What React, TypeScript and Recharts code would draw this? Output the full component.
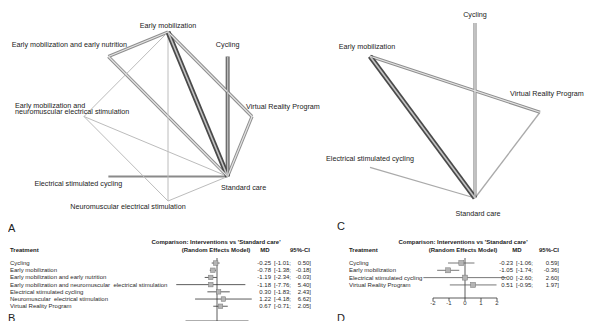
import React from "react";
import { ScatterChart, Scatter, XAxis, YAxis, ErrorBar, ReferenceLine } from "recharts";

const FONT = "'Liberation Sans', Arial, Helvetica, sans-serif";

// ---- network A (layout units, -1..1) ----
const netANames = [
  "Early mobilization",
  "Cycling",
  "Virtual Reality Program",
  "Standard care",
  "Neuromuscular electrical stimulation",
  "Electrical stimulated cycling",
  "Early mobilization and neuromuscular electrical stimulation",
  "Early mobilization and early nutrition",
];
const netAX = [0, 0.71, 1, 0.71, 0, -0.71, -1, -0.71];
const netAY = [1, 0.71, 0, -0.71, -1, -0.71, 0, 0.71];
const netAEdges = [
  [0, 7], [7, 3], [0, 2], [2, 3], [5, 3],
  [0, 6], [0, 4], [6, 3], [6, 4], [4, 3],
  [1, 3], [0, 3],
];
const netAKinds = [
  "double", "double", "double", "double", "single",
  "thin", "thin", "thin", "thin", "thin",
  "dark", "heavy",
];

// ---- network C ----
const netCNames = ["Cycling", "Early mobilization", "Virtual Reality Program", "Electrical stimulated cycling", "Standard care"];
const netCX = [0.235, -1, 1, -1, 0.235];
const netCY = [1, 0.62, -0.02, -0.65, -1];
const netCEdges = [[2, 4], [3, 4], [1, 2], [0, 4], [1, 4]];
const netCKinds = ["thinc", "thinc", "double", "double", "heavy"];

// ---- forest B ----
const forestBNames = [
  "Cycling",
  "Early mobilization",
  "Early mobilization and early nutrition",
  "Early mobilization and neuromuscular  electrical stimulation",
  "Electrical stimulated cycling",
  "Neuromuscular  electrical stimulation",
  "Virtual Reality Program",
];
const forestBMd = [-0.25, -0.78, -1.19, -1.18, 0.3, 1.22, 0.67];
const forestBLow = [-1.01, -1.38, -2.34, -7.76, -1.83, -4.18, -0.71];
const forestBHigh = [0.5, -0.18, -0.03, 5.4, 2.43, 6.62, 2.05];
const forestBTicks = [-6, -4, -2, 0, 2, 4, 6];

// ---- forest D ----
const forestDNames = ["Cycling", "Early mobilization", "Electrical stimulated cycling", "Virtual Reality Program"];
const forestDMd = [-0.23, -1.05, 0.0, 0.51];
const forestDLow = [-1.06, -1.74, -2.6, -0.95];
const forestDHigh = [0.59, -0.36, 2.6, 1.97];
const forestDTicks = [-2, -1, 0, 1, 2];

const EDGE_STYLE: Record<string, { outer: string; ow: number; inner?: string; iw?: number }> = {
  heavy: { outer: "#4a4a4a", ow: 5, inner: "#c4c4c4", iw: 1.6 },
  dark: { outer: "#6a6a6a", ow: 4, inner: "#b8b8b8", iw: 1.4 },
  double: { outer: "#8e8e8e", ow: 3.2, inner: "#e4e4e4", iw: 1.2 },
  single: { outer: "#8a8a8a", ow: 2 },
  thin: { outer: "#bcbcbc", ow: 1 },
  thinc: { outer: "#aaaaaa", ow: 1.3 },
};

type LabelPos = { dx: number; dy: number[]; anchor: "start" | "middle" | "end"; lines?: string[] };

const labelsA: Record<string, LabelPos> = {
  "Early mobilization": { dx: 0, dy: [-7], anchor: "middle" },
  Cycling: { dx: 0, dy: [-12], anchor: "middle" },
  "Virtual Reality Program": { dx: -6, dy: [-10], anchor: "start" },
  "Standard care": { dx: 16, dy: [11], anchor: "middle" },
  "Neuromuscular electrical stimulation": { dx: -40, dy: [5], anchor: "middle" },
  "Electrical stimulated cycling": { dx: -30, dy: [7], anchor: "middle" },
  "Early mobilization and neuromuscular electrical stimulation": {
    dx: -69, dy: [-11.5, -5], anchor: "start",
    lines: ["Early mobilization and", "neuromuscular electrical stimulation"],
  },
  "Early mobilization and early nutrition": { dx: -39, dy: [-12], anchor: "middle" },
};

const labelsC: Record<string, LabelPos> = {
  Cycling: { dx: 0, dy: [-9], anchor: "middle" },
  "Early mobilization": { dx: -3, dy: [-10], anchor: "middle" },
  "Virtual Reality Program": { dx: -30, dy: [-19], anchor: "start" },
  "Electrical stimulated cycling": { dx: 0, dy: [-9], anchor: "middle" },
  "Standard care": { dx: 3, dy: [15], anchor: "middle" },
};

const noShape = () => <g />;

function Network({ names, xs, ys, edges, kinds, labels, left, width, height, margin }: any) {
  const nodes = names.map((n: string, i: number) => ({ x: xs[i], y: ys[i], name: n }));
  const labelShape = (p: any) => {
    const pos: LabelPos = labels[p.payload.name];
    const lines = pos.lines ?? [p.payload.name];
    return (
      <g>
        {lines.map((t: string, k: number) => (
          <text
            key={k}
            x={p.cx + pos.dx}
            y={p.cy + pos.dy[k]}
            textAnchor={pos.anchor}
            dominantBaseline="central"
            fontFamily={FONT}
            fontSize={7.2}
            fill="#222"
            stroke="none"
          >
            {t}
          </text>
        ))}
      </g>
    );
  };
  return (
    <div style={{ position: "absolute", left, top: 0 }}>
      <ScatterChart width={width} height={height} margin={margin}>
        <XAxis type="number" dataKey="x" domain={[-1, 1]} hide />
        <YAxis type="number" dataKey="y" domain={[-1, 1]} hide />
        {edges.map(([a, b]: number[], k: number) => {
          const st = EDGE_STYLE[kinds[k]];
          return (
            <Scatter
              key={"o" + k}
              data={[nodes[a], nodes[b]]}
              line={{ stroke: st.outer, strokeWidth: st.ow }}
              shape={noShape}
              isAnimationActive={false}
            />
          );
        })}
        {edges.map(([a, b]: number[], k: number) => {
          const st = EDGE_STYLE[kinds[k]];
          if (!st.inner) return null;
          return (
            <Scatter
              key={"i" + k}
              data={[nodes[a], nodes[b]]}
              line={{ stroke: st.inner, strokeWidth: st.iw }}
              shape={noShape}
              isAnimationActive={false}
            />
          );
        })}
        <Scatter data={nodes} shape={labelShape} isAnimationActive={false} />
      </ScatterChart>
    </div>
  );
}

const fmt = (v: number) => v.toFixed(2);

function Forest(props: any) {
  const {
    names, md, low, high, ticks, left, top, width, height, margin, yAxisW,
    xDomain, yDomain, xAxisH, textX, mdX, ciX0, ciX1, lineColor, box, tickSize,
  } = props;
  const rows = names.map((_: string, i: number) => ({
    row: i,
    md: md[i],
    err: [md[i] - low[i], high[i] - md[i]],
  }));
  const RowTick = (p: any) => {
    const i = p.payload.value;
    const common = { y: p.y, dominantBaseline: "central" as const, fontFamily: FONT, fontSize: 6, fill: "#2a2a2a", stroke: "none" };
    return (
      <g>
        <text x={textX} {...common} style={{ whiteSpace: "pre" }}>{names[i]}</text>
        <text x={mdX} textAnchor="end" {...common}>{fmt(md[i])}</text>
        <text x={ciX0} {...common}>[{fmt(low[i])};</text>
        <text x={ciX1} textAnchor="end" {...common}>{fmt(high[i])}]</text>
      </g>
    );
  };
  const square = (p: any) => (
    <rect x={p.cx - box / 2} y={p.cy - box / 2} width={box} height={box} fill="#b4b4b4" stroke="#777" strokeWidth={0.5} />
  );
  return (
    <div style={{ position: "absolute", left, top }}>
      <ScatterChart width={width} height={height} margin={margin}>
        <XAxis
          type="number"
          dataKey="md"
          domain={xDomain}
          ticks={ticks}
          interval={0}
          height={xAxisH}
          axisLine={false}
          tickLine={{ stroke: "#333", strokeWidth: 0.8 }}
          tickSize={tickSize}
          tickMargin={0}
          tick={{ fontSize: 6, fill: "#333", fontFamily: FONT }}
        />
        <YAxis
          type="number"
          dataKey="row"
          domain={yDomain}
          reversed
          ticks={names.map((_: string, i: number) => i)}
          interval={0}
          width={yAxisW}
          axisLine={false}
          tickLine={false}
          tick={RowTick}
        />
        <ReferenceLine x={0} stroke="#333" strokeWidth={0.8} />
        <ReferenceLine
          segment={[{ x: ticks[0], y: yDomain[1] }, { x: ticks[ticks.length - 1], y: yDomain[1] }]}
          stroke="#333"
          strokeWidth={0.8}
          ifOverflow="visible"
        />
        <Scatter data={rows} shape={square} isAnimationActive={false}>
          <ErrorBar dataKey="err" direction="x" width={0} stroke={lineColor} strokeWidth={0.8} />
        </Scatter>
      </ScatterChart>
    </div>
  );
}

function Txt({ x, y, size = 6, bold = false, align = "left", children }: any) {
  const tx = align === "center" ? "-50%" : align === "right" ? "-100%" : "0";
  return (
    <div
      style={{
        position: "absolute",
        left: x,
        top: y - size * 0.55,
        fontSize: size,
        lineHeight: 1,
        fontWeight: bold ? 700 : 400,
        color: "#222",
        whiteSpace: "nowrap",
        transform: `translateX(${tx})`,
        fontFamily: FONT,
      }}
    >
      {children}
    </div>
  );
}

export default function App() {
  return (
    <div style={{ position: "relative", width: 593, height: 329, margin: -8, background: "#fff", overflow: "hidden" }}>
      <Network
        names={netANames} xs={netAX} ys={netAY} edges={netAEdges} kinds={netAKinds} labels={labelsA}
        left={0} width={330} height={215} margin={{ top: 32, left: 84, right: 78, bottom: 14 }}
      />
      <Network
        names={netCNames} xs={netCX} ys={netCY} edges={netCEdges} kinds={netCKinds} labels={labelsC}
        left={300} width={293} height={225} margin={{ top: 23, left: 70, right: 53, bottom: 27 }}
      />

      <Forest
        names={forestBNames} md={forestBMd} low={forestBLow} high={forestBHigh} ticks={forestBTicks}
        left={0} top={240} width={330} height={100}
        margin={{ top: 18, left: 0, right: 76.25, bottom: 0 }} yAxisW={175}
        xDomain={[-8, 7]} yDomain={[-0.7, 8.05]} xAxisH={19} tickSize={2}
        textX={10} mdX={271} ciX0={274} ciX1={311} lineColor="#333" box={4.5}
      />
      <Forest
        names={forestDNames} md={forestDMd} low={forestDLow} high={forestDHigh} ticks={forestDTicks}
        left={300} top={240} width={293} height={89}
        margin={{ top: 18, left: 0, right: 83.2, bottom: 0 }} yAxisW={120.2}
        xDomain={[-2.8, 2.8]} yDomain={[-0.685, 4.79]} xAxisH={31} tickSize={3}
        textX={49} mdX={213} ciX0={216} ciX1={259} lineColor="#555" box={5}
      />

      <Txt x={8} y={229} size={11}>A</Txt>
      <Txt x={8} y={319} size={11}>B</Txt>
      <Txt x={337} y={227} size={11}>C</Txt>
      <Txt x={337} y={319} size={11}>D</Txt>

      <Txt x={216} y={242} bold align="center">Comparison: Interventions vs 'Standard care'</Txt>
      <Txt x={216} y={250} bold align="center">(Random Effects Model)</Txt>
      <Txt x={10} y={250} bold>Treatment</Txt>
      <Txt x={265} y={250} bold align="center">MD</Txt>
      <Txt x={300} y={250} bold align="center">95%-CI</Txt>

      <Txt x={463} y={242} bold align="center">Comparison: Interventions vs 'Standard care'</Txt>
      <Txt x={463} y={250} bold align="center">(Random Effects Model)</Txt>
      <Txt x={349} y={250} bold>Treatment</Txt>
      <Txt x={517} y={250} bold align="center">MD</Txt>
      <Txt x={549} y={250} bold align="center">95%-CI</Txt>
    </div>
  );
}
